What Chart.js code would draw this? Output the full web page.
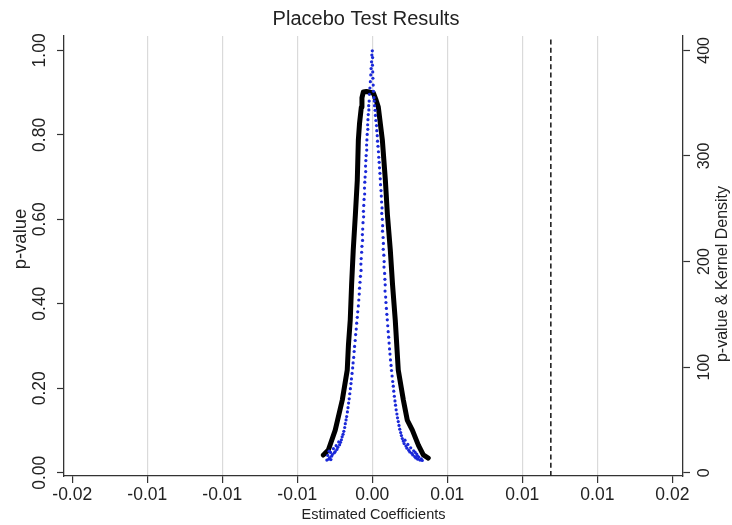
<!DOCTYPE html>
<html>
<head>
<meta charset="utf-8">
<script src="https://cdn.jsdelivr.net/npm/chart.js@4.4.1/dist/chart.umd.min.js"></script>
<style>
  html, body { margin: 0; padding: 0; background: #fff; }
</style>
</head>
<body>
<canvas id="placeboChart" width="732" height="525"></canvas>
<script>
// axis ticks (the original rounds every label to 2 decimals)
const xTickValues = [-0.02, -0.015, -0.01, -0.005, 0, 0.005, 0.01, 0.015, 0.02]
const xTickLabels = ['-0.02', '-0.01', '-0.01', '-0.01', '0.00', '0.01', '0.01', '0.01', '0.02']
const pTickValues = [0, 0.2, 0.4, 0.6, 0.8, 1.0]
const pTickLabels = ['0.00', '0.20', '0.40', '0.60', '0.80', '1.00']
const densityTickValues = [0, 100, 200, 300, 400]
const densityTickLabels = ['0', '100', '200', '300', '400']

// estimate from the real treatment (dashed line)
const actualEstimate = 0.0119

// placebo runs: [coefficient, p-value]
const placeboTop = [
  [0.00000, 0.999], [-0.00003, 0.989], [0.00002, 0.983], [-0.00005, 0.973], [0.00001, 0.965],
  [-0.00008, 0.957], [0.00003, 0.949], [-0.00010, 0.942], [0.00004, 0.934], [-0.00013, 0.926],
  [0.00006, 0.918], [-0.00016, 0.911], [0.00008, 0.903], [-0.00019, 0.896], [0.00011, 0.888]
]
const placeboLeft = [
  [-0.00021, 0.880], [-0.00024, 0.869], [-0.00023, 0.859], [-0.00027, 0.848], [-0.00029, 0.836],
  [-0.00031, 0.824], [-0.00030, 0.813], [-0.00034, 0.801], [-0.00036, 0.788], [-0.00038, 0.776],
  [-0.00037, 0.764], [-0.00041, 0.751], [-0.00043, 0.739], [-0.00045, 0.726], [-0.00044, 0.713],
  [-0.00048, 0.700], [-0.00050, 0.688], [-0.00052, 0.674], [-0.00051, 0.660], [-0.00055, 0.647],
  [-0.00057, 0.633], [-0.00059, 0.619], [-0.00058, 0.606], [-0.00062, 0.592], [-0.00064, 0.577],
  [-0.00066, 0.564], [-0.00065, 0.550], [-0.00069, 0.536], [-0.00071, 0.522], [-0.00074, 0.507],
  [-0.00076, 0.494], [-0.00075, 0.479], [-0.00079, 0.465], [-0.00082, 0.451], [-0.00085, 0.437],
  [-0.00087, 0.423], [-0.00090, 0.409], [-0.00093, 0.395], [-0.00097, 0.381], [-0.00100, 0.368],
  [-0.00104, 0.354], [-0.00107, 0.340], [-0.00111, 0.327], [-0.00114, 0.313], [-0.00118, 0.299],
  [-0.00121, 0.287], [-0.00124, 0.273], [-0.00128, 0.260], [-0.00131, 0.248], [-0.00135, 0.235],
  [-0.00139, 0.222], [-0.00142, 0.211], [-0.00146, 0.199], [-0.00150, 0.187], [-0.00154, 0.175],
  [-0.00158, 0.165], [-0.00162, 0.154], [-0.00166, 0.144], [-0.00171, 0.133], [-0.00175, 0.125],
  [-0.00180, 0.116], [-0.00184, 0.107], [-0.00190, 0.098], [-0.00195, 0.091], [-0.00201, 0.085],
  [-0.00206, 0.078], [-0.00212, 0.072], [-0.00218, 0.066], [-0.00224, 0.073], [-0.00230, 0.060],
  [-0.00236, 0.055], [-0.00241, 0.064], [-0.00247, 0.050], [-0.00253, 0.047], [-0.00259, 0.057],
  [-0.00266, 0.043], [-0.00272, 0.039], [-0.00278, 0.048], [-0.00285, 0.035], [-0.00291, 0.032],
  [-0.00297, 0.041], [-0.00303, 0.030], [-0.00288, 0.051], [-0.00276, 0.031]
]
const placeboRight = [
  [0.00013, 0.880], [0.00015, 0.869], [0.00019, 0.858], [0.00021, 0.846], [0.00024, 0.834],
  [0.00028, 0.822], [0.00030, 0.810], [0.00033, 0.798], [0.00035, 0.785], [0.00038, 0.773],
  [0.00041, 0.760], [0.00043, 0.747], [0.00046, 0.735], [0.00048, 0.722], [0.00051, 0.709],
  [0.00053, 0.696], [0.00055, 0.682], [0.00058, 0.668], [0.00060, 0.655], [0.00062, 0.641],
  [0.00065, 0.627], [0.00063, 0.614], [0.00067, 0.600], [0.00069, 0.585], [0.00068, 0.572],
  [0.00072, 0.557], [0.00074, 0.543], [0.00073, 0.529], [0.00077, 0.515], [0.00079, 0.500],
  [0.00078, 0.487], [0.00082, 0.472], [0.00084, 0.458], [0.00086, 0.445], [0.00085, 0.430],
  [0.00089, 0.416], [0.00091, 0.403], [0.00094, 0.389], [0.00097, 0.375], [0.00100, 0.362],
  [0.00103, 0.348], [0.00106, 0.334], [0.00109, 0.321], [0.00112, 0.307], [0.00115, 0.293],
  [0.00118, 0.281], [0.00121, 0.267], [0.00125, 0.254], [0.00128, 0.242], [0.00132, 0.229],
  [0.00136, 0.216], [0.00140, 0.205], [0.00143, 0.193], [0.00147, 0.181], [0.00151, 0.170],
  [0.00155, 0.160], [0.00159, 0.149], [0.00164, 0.139], [0.00168, 0.130], [0.00173, 0.121],
  [0.00178, 0.112], [0.00183, 0.103], [0.00189, 0.095], [0.00194, 0.088], [0.00200, 0.081],
  [0.00206, 0.075], [0.00212, 0.069], [0.00218, 0.077], [0.00224, 0.063], [0.00231, 0.058],
  [0.00237, 0.067], [0.00243, 0.053], [0.00250, 0.049], [0.00256, 0.059], [0.00263, 0.046],
  [0.00270, 0.042], [0.00276, 0.052], [0.00283, 0.038], [0.00290, 0.035], [0.00296, 0.044],
  [0.00303, 0.032], [0.00310, 0.037], [0.00318, 0.030], [0.00326, 0.033], [0.00333, 0.029],
  [0.00286, 0.048], [0.00301, 0.040]
]

// kernel density of the placebo coefficients (right axis)
const kdeCoef = [
  -0.00327, -0.00318, -0.00293, -0.00247, -0.00200, -0.00167, -0.00159, -0.00147, -0.00138,
  -0.00127, -0.00113, -0.00100, -0.00093, -0.00085, -0.00073, -0.00069, -0.00060, -0.00040,
  -0.00020, 0.00007, 0.00025, 0.00040, 0.00067, 0.00087, 0.00101, 0.00120, 0.00135, 0.00153,
  0.00173, 0.00207, 0.00233, 0.00267, 0.00307, 0.00340, 0.00373
]
const kdeDensity = [
  16.8, 18.0, 21.5, 40.4, 68.9, 97.3, 121, 144.6, 178,
  210.9, 244, 277.2, 315.1, 331, 346.3, 355, 360.6, 361.0,
  360.5, 359.6, 353, 346.3, 315.1, 277.2, 244, 210.9, 178, 144.6,
  97.3, 68.9, 49.9, 40.4, 26.2, 16.8, 13.9
]

const chartTitle = 'Placebo Test Results'
const xTitle = 'Estimated Coefficients'
const leftTitle = 'p-value'
const rightTitle = 'p-value & Kernel Density'

// axis ranges
const xMin = -0.02055, xMax = 0.02071
const pMin = -0.0078, pMax = 1.0341
const dMin = -3.1, dMax = 413.6

const textColor = '#222'
const axisColor = '#333'
Chart.defaults.font.family = '"Liberation Sans", Arial, Helvetica, sans-serif'
Chart.defaults.color = textColor

const toPoints = rows => rows.map(r => ({ x: r[0], y: r[1] }))
const placeboPoints = toPoints(placeboTop.concat(placeboLeft, placeboRight))
const kdePoints = kdeCoef.map((c, i) => ({ x: c, y: kdeDensity[i] }))

// the two vertical axis titles read bottom-to-top on both sides
const sideTitles = {
    id: 'sideTitles',
    afterDraw(chart) {
        const ctx = chart.ctx
        ctx.save()
        ctx.fillStyle = textColor
        ctx.textAlign = 'center'
        ctx.textBaseline = 'middle'

        ctx.save()
        ctx.font = '18.5px "Liberation Sans", Arial, sans-serif'
        ctx.translate(20.5, 239)
        ctx.rotate(-Math.PI / 2)
        ctx.fillText(leftTitle, 0, 0)
        ctx.restore()

        ctx.save()
        ctx.font = '16px "Liberation Sans", Arial, sans-serif'
        ctx.translate(723, 274)
        ctx.rotate(-Math.PI / 2)
        ctx.fillText(rightTitle, 0, 0)
        ctx.restore()

        ctx.restore()
    }
}

new Chart(document.getElementById('placeboChart'), {
    type: 'scatter',
    data: {
        datasets: [
            {
                label: 'p-value',
                data: placeboPoints,
                xAxisID: 'x',
                yAxisID: 'y',
                pointRadius: 1.6,
                pointBackgroundColor: '#1a28d8',
                pointBorderWidth: 0,
                showLine: false,
                order: 0
            },
            {
                label: 'Kernel Density',
                type: 'line',
                data: kdePoints,
                xAxisID: 'x',
                yAxisID: 'y2',
                borderColor: '#000',
                borderWidth: 5,
                borderJoinStyle: 'round',
                borderCapStyle: 'round',
                pointRadius: 0,
                tension: 0,
                fill: false,
                order: 1
            },
            {
                label: 'Actual estimate',
                type: 'line',
                data: [{ x: actualEstimate, y: pMin }, { x: actualEstimate, y: pMax }],
                xAxisID: 'x',
                yAxisID: 'y',
                borderColor: '#222',
                borderWidth: 1.6,
                borderDash: [5, 3.3],
                pointRadius: 0,
                fill: false,
                order: 2
            }
        ]
    },
    options: {
        responsive: false,
        animation: false,
        layout: { padding: 0 },
        plugins: {
            legend: { display: false },
            tooltip: { enabled: false },
            title: {
                display: true,
                text: chartTitle,
                color: textColor,
                font: { size: 20, weight: 'normal', lineHeight: 1.2 },
                padding: { top: 7.5, bottom: 4.5 }
            }
        },
        scales: {
            x: {
                type: 'linear',
                position: 'bottom',
                min: xMin,
                max: xMax,
                afterBuildTicks: s => { s.ticks = xTickValues.map(v => ({ value: v })) },
                afterFit: s => { s.height = 49 },
                ticks: {
                    callback: (v, i) => xTickLabels[i],
                    autoSkip: false,
                    maxRotation: 0,
                    padding: 2,
                    color: textColor,
                    font: { size: 17.5 }
                },
                grid: {
                    color: c => (c.index === 0 || c.index === xTickValues.length - 1) ? 'rgba(0,0,0,0)' : '#dadada',
                    lineWidth: 1.2,
                    tickLength: 7,
                    tickColor: axisColor,
                    tickWidth: 1.2
                },
                border: { color: axisColor, width: 1.3 },
                title: {
                    display: true,
                    text: xTitle,
                    color: textColor,
                    font: { size: 14.5 },
                    padding: { top: 0, bottom: 1.3 }
                }
            },
            y: {
                type: 'linear',
                position: 'left',
                min: pMin,
                max: pMax,
                afterBuildTicks: s => { s.ticks = pTickValues.map(v => ({ value: v })) },
                afterFit: s => { s.width = 64 },
                ticks: {
                    callback: (v, i) => pTickLabels[i],
                    minRotation: 90,
                    maxRotation: 90,
                    crossAlign: 'center',
                    padding: 0,
                    color: textColor,
                    font: { size: 17.5 }
                },
                grid: { drawOnChartArea: false, tickLength: 7, tickColor: axisColor, tickWidth: 1.2 },
                border: { color: axisColor, width: 1.3 }
            },
            y2: {
                type: 'linear',
                position: 'right',
                min: dMin,
                max: dMax,
                afterBuildTicks: s => { s.ticks = densityTickValues.map(v => ({ value: v })) },
                afterFit: s => { s.width = 49 },
                ticks: {
                    callback: (v, i) => densityTickLabels[i],
                    minRotation: 90,
                    maxRotation: 90,
                    crossAlign: 'center',
                    padding: 1,
                    color: textColor,
                    font: { size: 16 }
                },
                grid: { drawOnChartArea: false, tickLength: 7, tickColor: axisColor, tickWidth: 1.2 },
                border: { color: axisColor, width: 1.3 }
            }
        }
    },
    plugins: [sideTitles]
})
</script>
</body>
</html>
